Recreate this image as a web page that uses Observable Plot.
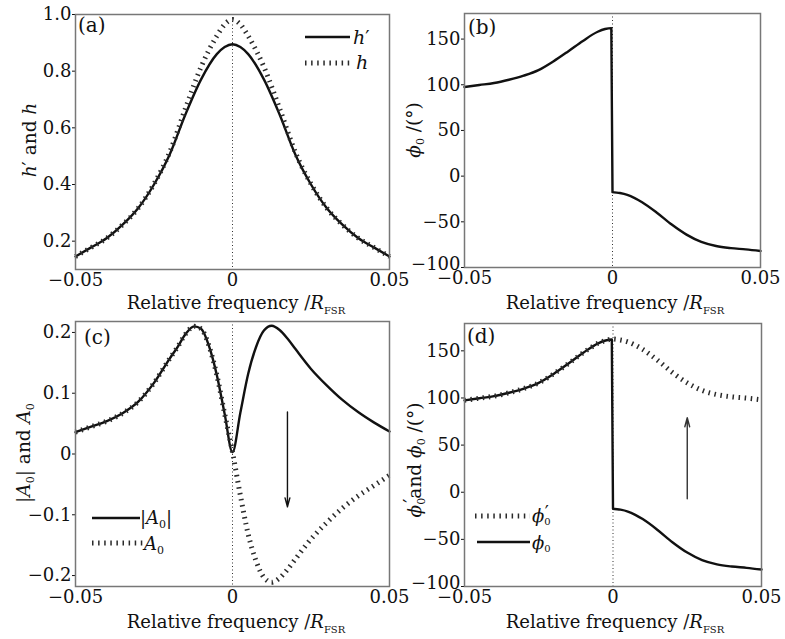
<!DOCTYPE html>
<html><head><meta charset="utf-8">
<script src="https://cdn.jsdelivr.net/npm/d3@7"></script>
<script src="https://cdn.jsdelivr.net/npm/@observablehq/plot@0.6"></script>
<style>
body{margin:0;background:#fff;}
#chart{position:relative;width:785px;height:639px;overflow:hidden;background:#fff;}
#chart svg{position:absolute;overflow:visible !important;}
</style></head><body><div id="chart"></div>
<script>
// ---------- data ----------
const xTicks = [-0.05, 0, 0.05];

// panel (a)
const xsA = [-0.05,-0.045,-0.04,-0.035,-0.03,-0.025,-0.02,-0.015,-0.01,-0.005,-0.0025,0,0.0025,0.005,0.01,0.015,0.02,0.025,0.03,0.035,0.04,0.045,0.05];
const hPrime = [0.146,0.178,0.211,0.258,0.317,0.400,0.506,0.647,0.771,0.860,0.885,0.895,0.885,0.860,0.771,0.647,0.506,0.400,0.317,0.258,0.211,0.178,0.146];
const hVals  = [0.146,0.178,0.211,0.258,0.317,0.402,0.514,0.668,0.815,0.924,0.965,0.982,0.965,0.924,0.815,0.668,0.514,0.402,0.317,0.258,0.211,0.178,0.146];
const yTicksA = [0.2,0.4,0.6,0.8,1.0];

// panels (b) and (d): phase
const xsPhi = [-0.05,-0.045,-0.04,-0.035,-0.03,-0.025,-0.02,-0.015,-0.01,-0.005,-0.0025,-0.0004,0,0.0025,0.005,0.0075,0.01,0.015,0.02,0.025,0.03,0.035,0.04,0.045,0.05];
const phi0 = [97.5,99.7,101.9,105.5,110,116,125.5,136.5,148,158,161,162,-17.5,-18.5,-20.5,-24,-28.5,-40,-53,-64,-72,-76.5,-78.8,-80.2,-82];
const xsPhiP = [-0.05,-0.045,-0.04,-0.035,-0.03,-0.025,-0.02,-0.015,-0.01,-0.005,-0.0025,0,0.0025,0.005,0.0075,0.01,0.015,0.02,0.025,0.03,0.035,0.04,0.045,0.05];
const phi0P = [97.5,99.7,101.9,105.5,110,116,125.5,136.5,148,158,161,162.5,161.5,159.5,156,151.5,140,127,116,108,103.5,101.2,99.8,98];
const yTicksPhi = [-100,-50,0,50,100,150];

// panel (c)
const xsC = [-0.05,-0.045,-0.04,-0.035,-0.03,-0.025,-0.02,-0.0175,-0.015,-0.0122,-0.01,-0.0075,-0.005,-0.0025,0,0.0025,0.005,0.0075,0.01,0.0125,0.015,0.0175,0.02,0.025,0.03,0.035,0.04,0.045,0.05];
const absA0 = [0.036,0.045,0.054,0.067,0.086,0.117,0.157,0.176,0.197,0.210,0.206,0.178,0.130,0.066,0.003,0.068,0.132,0.176,0.203,0.211,0.204,0.190,0.173,0.140,0.113,0.089,0.069,0.052,0.037];
const A0    = [0.036,0.045,0.054,0.067,0.086,0.117,0.157,0.176,0.197,0.210,0.206,0.178,0.130,0.066,0.003,-0.068,-0.132,-0.176,-0.203,-0.211,-0.204,-0.190,-0.173,-0.140,-0.113,-0.089,-0.069,-0.052,-0.035];
const yTicksC = [-0.2,-0.1,0,0.1,0.2];

// arrows (data coordinates)
const arrowC = [{x: 0.0175, y1: 0.069, y2: -0.087}];
const arrowD = [{x: 0.025, y1: -7, y2: 79}];

// ---------- helpers ----------
const FONT = "DejaVu Serif";
const INK = "#111";
const DOT = {stroke: "#2a2a2a", strokeWidth: 5, strokeDasharray: "1.5,4.6", strokeLinecap: "butt"};
const toRows = (xs, ys) => xs.map((x, i) => ({x, y: ys[i]}));
const fmtX = d => d === 0 ? "0" : d3.format(".2f")(d);
const solid = (rows) => Plot.line(rows, {x: "x", y: "y", stroke: INK, strokeWidth: 2.4, curve: "monotone-x"});
const dotted = (rows) => Plot.line(rows, {x: "x", y: "y", ...DOT, curve: "monotone-x"});
const zeroRule = Plot.ruleX([0], {stroke: "#333", strokeWidth: 1, strokeDasharray: "1,2.5"});

const chart = document.getElementById("chart");

function panel({left, top, width, height, mt, mb, ml, mr, yDomain, yTicks, yFmt, marks}) {
  const svg = Plot.plot({
    width, height, marginTop: mt, marginBottom: mb, marginLeft: ml, marginRight: mr,
    style: {fontFamily: FONT, fontSize: "18px", background: "transparent", color: INK},
    x: {domain: [-0.05, 0.05], ticks: xTicks, tickFormat: fmtX, tickSize: 0, tickPadding: 4, label: null},
    y: {domain: yDomain, ticks: yTicks, tickFormat: yFmt, tickSize: 3, tickPadding: 1, label: null},
    marks: [zeroRule, ...marks, Plot.frame({stroke: "#777", strokeWidth: 1.5})]
  });
  svg.style.left = left + "px";
  svg.style.top = top + "px";
  chart.appendChild(svg);
  // lift the lowest y tick label slightly, as in the reference
  d3.select(svg).selectAll("text").filter(function () { return this.textContent === "−100"; })
    .attr("transform", function () { return (this.getAttribute("transform") || "") + " translate(0,-3)"; });
  return svg;
}

function rich(svg, x, y, segs, {size = 18, anchor = "start", rotate = false} = {}) {
  const t = d3.select(svg).append("text")
    .attr("font-family", FONT).attr("font-size", size).attr("fill", INK).attr("text-anchor", anchor);
  if (rotate) t.attr("transform", `translate(${x},${y}) rotate(-90)`); else t.attr("x", x).attr("y", y);
  let shift = 0;
  for (const s of segs) {
    const sp = t.append("tspan").text(s.t);
    if (s.italic) sp.attr("font-style", "italic");
    if (s.size) sp.attr("font-size", s.size);
    if (s.dx) sp.attr("dx", s.dx);
    const target = s.sub || 0;
    if (target !== shift) { sp.attr("dy", target - shift); shift = target; }
  }
  return t;
}

function legendLine(svg, x1, x2, y, isDotted) {
  const l = d3.select(svg).append("line").attr("x1", x1).attr("x2", x2).attr("y1", y).attr("y2", y);
  if (isDotted) l.attr("stroke", DOT.stroke).attr("stroke-width", DOT.strokeWidth).attr("stroke-dasharray", DOT.strokeDasharray);
  else l.attr("stroke", INK).attr("stroke-width", 2.4);
}

const xLabelSegs = [
  {t: "Relative frequency /"},
  {t: "R", italic: true},
  {t: "FSR", size: 10, sub: 5}
];

// ---------- panel (a) ----------
const svgA = panel({
  left: 0, top: 0, width: 392, height: 320, mt: 14, mb: 51, ml: 75, mr: 3,
  yDomain: [0.1, 1.0], yTicks: yTicksA, yFmt: d3.format(".1f"),
  marks: [solid(toRows(xsA, hPrime)), dotted(toRows(xsA, hVals))]
});
rich(svgA, 236, 309, xLabelSegs, {anchor: "middle", size: 18});
rich(svgA, 36, 140, [{t: "h", italic: true}, {t: "′ and "}, {t: "h", italic: true}], {rotate: true, anchor: "middle", size: 18.5});
rich(svgA, 78, 32, [{t: "(a)"}], {size: 20});
legendLine(svgA, 305, 350, 37, false);
rich(svgA, 353, 44, [{t: "h", italic: true}, {t: "′"}], {size: 19});
legendLine(svgA, 305, 350, 63, true);
rich(svgA, 356, 69, [{t: "h", italic: true}], {size: 19});

// ---------- panel (b) ----------
const svgB = panel({
  left: 392, top: 0, width: 393, height: 320, mt: 13, mb: 53, ml: 72, mr: 25,
  yDomain: [-100, 178], yTicks: yTicksPhi, yFmt: d3.format("d"),
  marks: [solid(toRows(xsPhi, phi0))]
});
rich(svgB, 223, 309, xLabelSegs, {anchor: "middle", size: 18});
rich(svgB, 28, 130, [{t: "ϕ", italic: true}, {t: "0", size: 11, sub: 4}, {t: " /(°)"}], {rotate: true, anchor: "middle", size: 18.5});
rich(svgB, 76, 34, [{t: "(b)"}], {size: 20});

// ---------- panel (c) ----------
const svgC = panel({
  left: 0, top: 307, width: 392, height: 332, mt: 14, mb: 53, ml: 75, mr: 3,
  yDomain: [-0.218, 0.218], yTicks: yTicksC, yFmt: d => d === 0 ? "0" : d3.format(".1f")(d),
  marks: [
    solid(toRows(xsC, absA0)), dotted(toRows(xsC, A0)),
    Plot.arrow(arrowC, {x1: "x", x2: "x", y1: "y1", y2: "y2", stroke: INK, strokeWidth: 1.4, headLength: 10, headAngle: 30})
  ]
});
rich(svgC, 236, 321, xLabelSegs, {anchor: "middle", size: 18});
rich(svgC, 30, 146, [{t: "|"}, {t: "A", italic: true}, {t: "0", size: 11, sub: 4}, {t: "| and "}, {t: "A", italic: true}, {t: "0", size: 11, sub: 4}], {rotate: true, anchor: "middle", size: 18.5});
rich(svgC, 84, 37, [{t: "(c)"}], {size: 20});
legendLine(svgC, 92, 140, 211, false);
rich(svgC, 140, 217, [{t: "|"}, {t: "A", italic: true}, {t: "0", size: 11, sub: 4}, {t: "|"}], {size: 18});
legendLine(svgC, 92, 143, 236, true);
rich(svgC, 144, 243, [{t: "A", italic: true}, {t: "0", size: 11, sub: 4}], {size: 18});

// ---------- panel (d) ----------
const svgD = panel({
  left: 392, top: 307, width: 393, height: 332, mt: 16, mb: 53, ml: 72, mr: 24,
  yDomain: [-100, 179], yTicks: yTicksPhi, yFmt: d3.format("d"),
  marks: [
    solid(toRows(xsPhi, phi0)), dotted(toRows(xsPhiP, phi0P)),
    Plot.arrow(arrowD, {x1: "x", x2: "x", y1: "y1", y2: "y2", stroke: "#333", strokeWidth: 1.4, headLength: 10, headAngle: 30})
  ]
});
rich(svgD, 223, 321, xLabelSegs, {anchor: "middle", size: 18});
rich(svgD, 29, 153, [{t: "ϕ", italic: true}, {t: "0", size: 11, sub: 4}, {t: "′", sub: -4, dx: -5}, {t: "and "}, {t: "ϕ", italic: true}, {t: "0", size: 11, sub: 4}, {t: " /(°)"}], {rotate: true, anchor: "middle", size: 18.5});
rich(svgD, 75, 36, [{t: "(d)"}], {size: 20});
legendLine(svgD, 83, 138, 209, true);
rich(svgD, 140, 215, [{t: "ϕ", italic: true}, {t: "0", size: 10, sub: 3}, {t: "′", sub: -3, dx: -6}], {size: 18});
legendLine(svgD, 85, 138, 235, false);
rich(svgD, 140, 242, [{t: "ϕ", italic: true}, {t: "0", size: 10, sub: 3}], {size: 18});
</script>
</body></html>
